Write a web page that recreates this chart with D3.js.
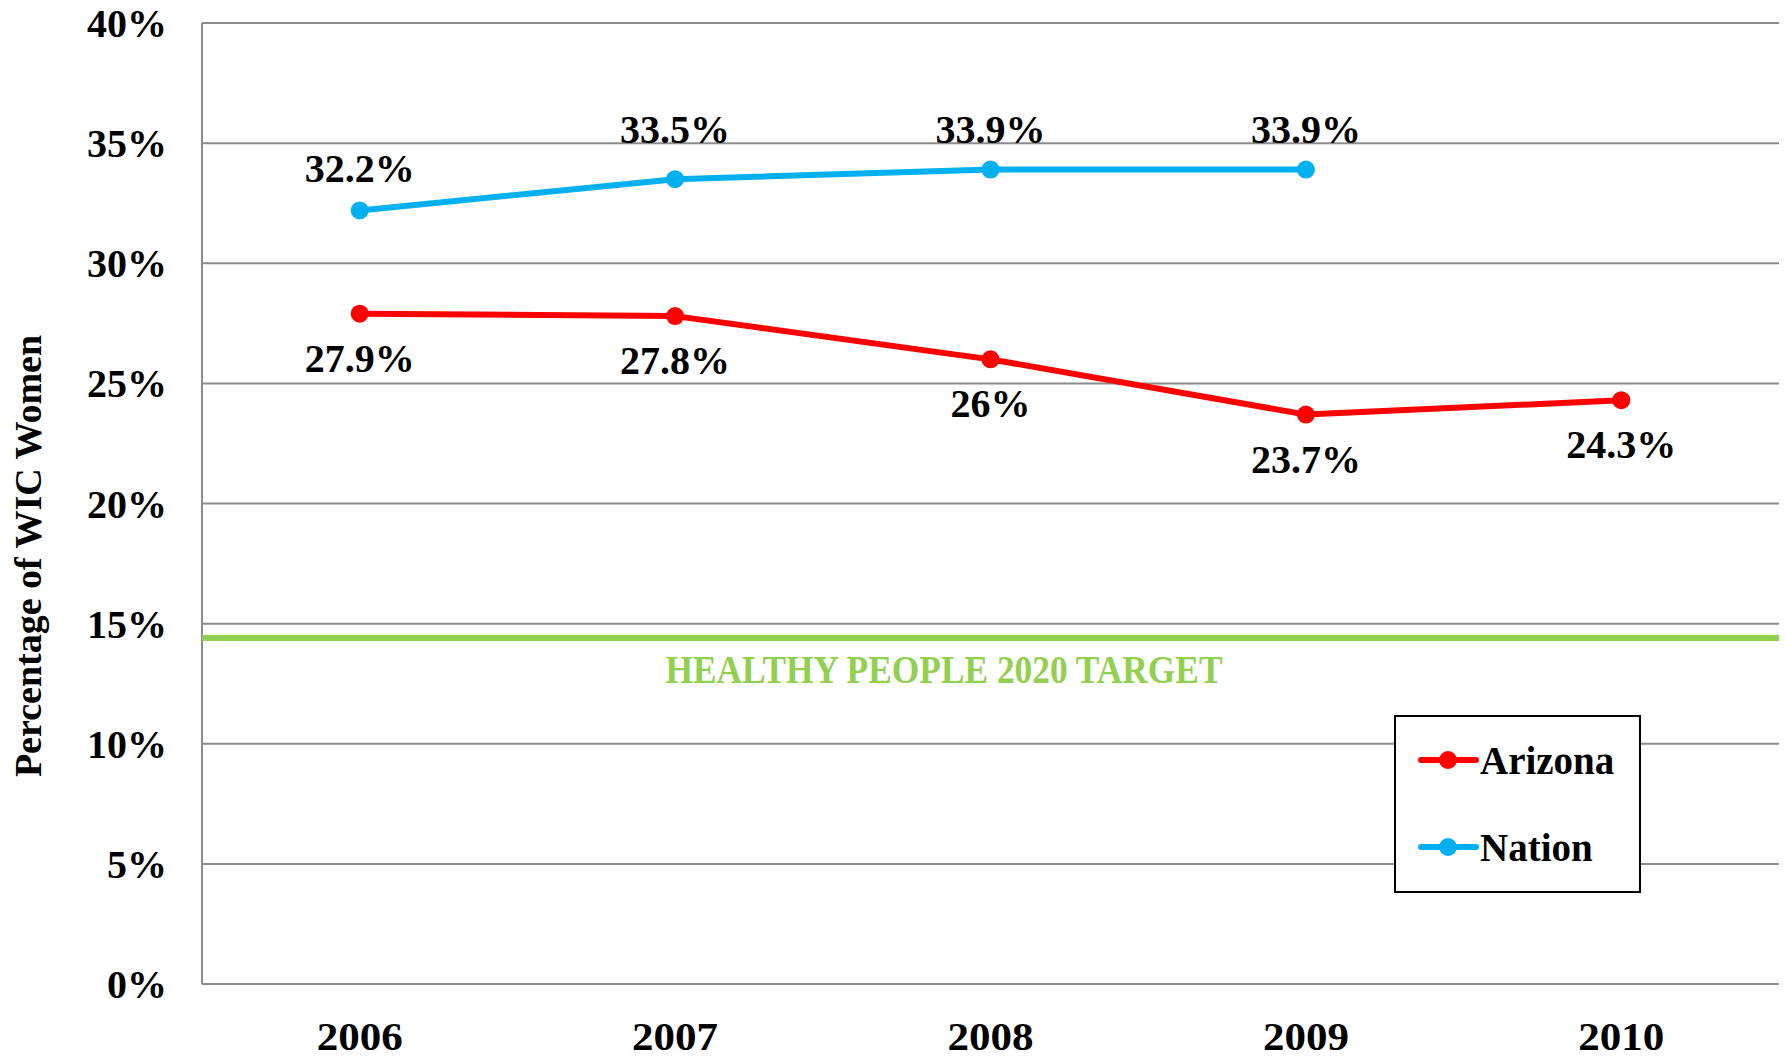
<!DOCTYPE html>
<html>
<head>
<meta charset="utf-8">
<script src="https://cdn.jsdelivr.net/npm/d3@7"></script>
<style>
  html, body { margin: 0; padding: 0; background: #fff; }
  svg { display: block; }
  text { font-family: "Liberation Serif", "Times New Roman", serif; font-weight: bold; }
</style>
</head>
<body>
<svg id="chart" width="1785" height="1060"></svg>
<script>
const years = ["2006", "2007", "2008", "2009", "2010"];
const arizona = [27.9, 27.8, 26, 23.7, 24.3];
const nation = [32.2, 33.5, 33.9, 33.9, null];
const arizonaLabels = ["27.9%", "27.8%", "26%", "23.7%", "24.3%"];
const nationLabels = ["32.2%", "33.5%", "33.9%", "33.9%", null];
const yTicks = [0, 5, 10, 15, 20, 25, 30, 35, 40];
const target = 14.4;
const targetLabel = "HEALTHY PEOPLE 2020 TARGET";
const yTitle = "Percentage of WIC Women";

const svg = d3.select("#chart");
const margin = { left: 202, right: 6, top: 23, bottom: 76 };
const W = 1785, H = 1060;

const x = d3.scaleBand().domain(years).range([margin.left, W - margin.right]);
const y = d3.scaleLinear().domain([0, 40]).range([H - margin.bottom, margin.top]);
const cx = d => x(d) + x.bandwidth() / 2;

// gridlines
svg.append("g").selectAll("line").data(yTicks).join("line")
  .attr("x1", margin.left).attr("x2", W - margin.right)
  .attr("y1", d => y(d)).attr("y2", d => y(d))
  .attr("stroke", "#8c8c8c").attr("stroke-width", 2);

// left axis line
svg.append("line")
  .attr("x1", margin.left).attr("x2", margin.left)
  .attr("y1", y(40)).attr("y2", y(0))
  .attr("stroke", "#8c8c8c").attr("stroke-width", 2);

// y tick labels
svg.append("g").selectAll("text").data(yTicks).join("text")
  .attr("x", 167).attr("y", d => y(d))
  .attr("dy", "0.35em")
  .attr("text-anchor", "end")
  .attr("font-size", 40)
  .attr("fill", "#000")
  .text(d => d + "%");

// x labels
svg.append("g").selectAll("text").data(years).join("text")
  .attr("x", d => cx(d)).attr("y", 1036)
  .attr("dy", "0.35em")
  .attr("text-anchor", "middle")
  .attr("font-size", 40)
  .attr("textLength", 86).attr("lengthAdjust", "spacingAndGlyphs")
  .text(d => d);

// y title
svg.append("text")
  .attr("transform", "translate(28,556) rotate(-90)")
  .attr("dy", "0.35em")
  .attr("text-anchor", "middle")
  .attr("font-size", 38)
  .text(yTitle);

// target line
svg.append("line")
  .attr("x1", margin.left).attr("x2", W - margin.right)
  .attr("y1", y(target)).attr("y2", y(target))
  .attr("stroke", "#92D050").attr("stroke-width", 6);
svg.append("text")
  .attr("x", 944).attr("y", y(target) + 31)
  .attr("dy", "0.35em")
  .attr("text-anchor", "middle")
  .attr("font-size", 39)
  .attr("fill", "#92D050")
  .attr("textLength", 557).attr("lengthAdjust", "spacingAndGlyphs")
  .text(targetLabel);

function drawSeries(vals, color) {
  const pts = years.map((yr, i) => ({ yr, v: vals[i] })).filter(d => d.v != null);
  const line = d3.line().x(d => cx(d.yr)).y(d => y(d.v));
  svg.append("path").datum(pts)
    .attr("d", line).attr("fill", "none")
    .attr("stroke", color).attr("stroke-width", 6)
    .attr("stroke-linejoin", "round");
  svg.append("g").selectAll("circle").data(pts).join("circle")
    .attr("cx", d => cx(d.yr)).attr("cy", d => y(d.v)).attr("r", 9)
    .attr("fill", color);
  return pts;
}

drawSeries(nation, "#00B0F0");
drawSeries(arizona, "#FF0000");

// Nation labels (above)
const nationPts = years.map((yr, i) => ({ yr, v: nation[i], t: nationLabels[i], i })).filter(d => d.v != null);
svg.append("g").selectAll("text").data(nationPts).join("text")
  .attr("x", d => cx(d.yr))
  .attr("y", d => d.i === 0 ? y(d.v) - 42 : y(35) - 14)
  .attr("dy", "0.35em")
  .attr("text-anchor", "middle")
  .attr("font-size", 40)
  .text(d => d.t);

// Arizona labels (below)
const azPts = years.map((yr, i) => ({ yr, v: arizona[i], t: arizonaLabels[i] }));
svg.append("g").selectAll("text").data(azPts).join("text")
  .attr("x", d => cx(d.yr))
  .attr("y", d => y(d.v) + 44)
  .attr("dy", "0.35em")
  .attr("text-anchor", "middle")
  .attr("font-size", 40)
  .text(d => d.t);

// legend
const lg = svg.append("g");
lg.append("rect")
  .attr("x", 1395).attr("y", 716).attr("width", 245).attr("height", 176)
  .attr("fill", "#fff").attr("stroke", "#000").attr("stroke-width", 2);
const legendItems = [{ name: "Arizona", color: "#FF0000", yy: 760 }, { name: "Nation", color: "#00B0F0", yy: 847 }];
legendItems.forEach(it => {
  lg.append("line").attr("x1", 1421).attr("x2", 1476).attr("y1", it.yy).attr("y2", it.yy)
    .attr("stroke", it.color).attr("stroke-width", 6).attr("stroke-linecap", "round");
  lg.append("circle").attr("cx", 1448).attr("cy", it.yy).attr("r", 9).attr("fill", it.color);
  lg.append("text").attr("x", 1480).attr("y", it.yy).attr("dy", "0.35em")
    .attr("font-size", 39).text(it.name);
});
</script>
</body>
</html>
